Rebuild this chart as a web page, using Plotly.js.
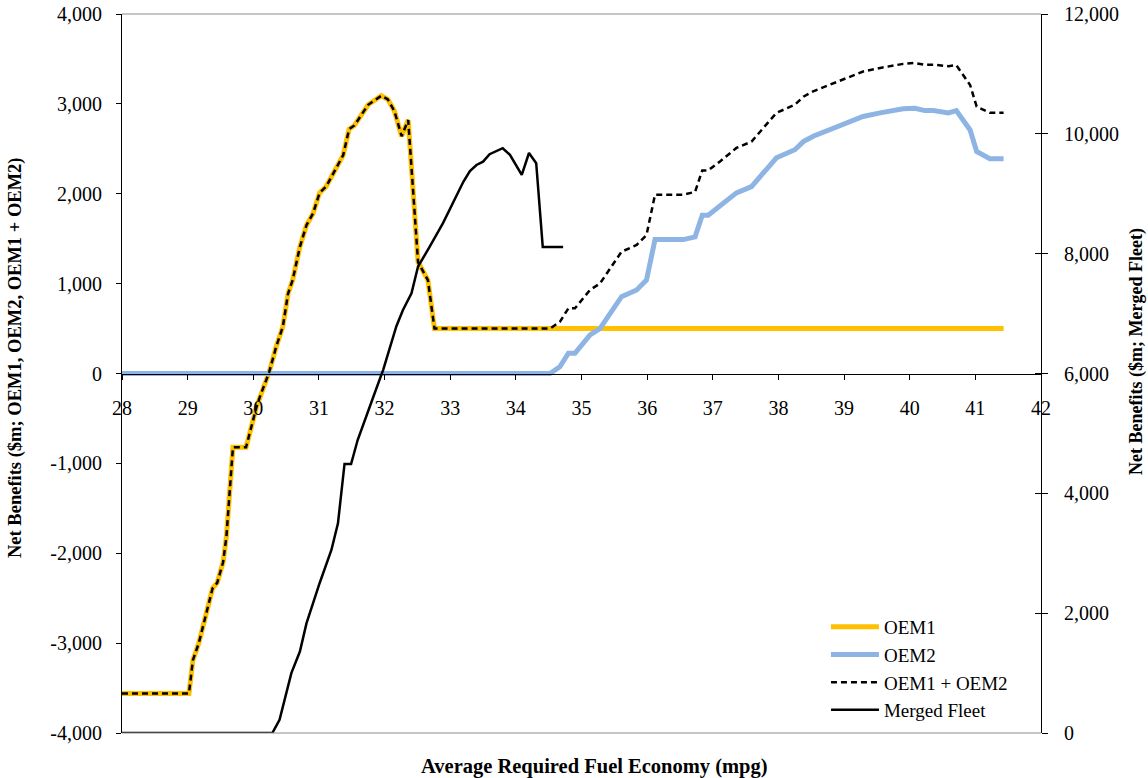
<!DOCTYPE html>
<html>
<head>
<meta charset="utf-8">
<script src="https://cdn.plot.ly/plotly-3.0.1.min.js"></script>
<style>
html,body{margin:0;padding:0;background:#fff;}
#chart{width:1148px;height:778px;}
</style>
</head>
<body>
<div id="chart"></div>
<script>
// ---- Data ----
const oem1X = [28.0, 29.02, 29.08, 29.17, 29.38, 29.45, 29.54, 29.59, 29.69, 29.89, 30.05, 30.10, 30.24, 30.35, 30.45, 30.53, 30.60, 30.71, 30.81, 30.91, 31.01, 31.11, 31.37, 31.46, 31.54, 31.75, 31.95, 32.05, 32.15, 32.26, 32.36, 32.51, 32.66, 32.76, 41.43];
const oem1Y = [-3560, -3560, -3190, -3000, -2390, -2330, -2100, -1820, -820, -820, -370, -260, 10, 300, 520, 890, 1040, 1410, 1650, 1780, 2010, 2080, 2430, 2720, 2760, 2990, 3090, 3050, 2920, 2640, 2820, 1240, 1040, 500, 500];

const oem2X = [28.0, 34.52, 34.67, 34.80, 34.90, 35.13, 35.28, 35.61, 35.84, 35.99, 36.12, 36.55, 36.73, 36.84, 36.93, 37.11, 37.36, 37.59, 37.79, 37.97, 38.25, 38.38, 38.53, 39.29, 39.55, 39.90, 40.08, 40.23, 40.36, 40.59, 40.71, 40.92, 41.02, 41.22, 41.43];
const oem2Y = [0, 0, 75, 225, 225, 430, 500, 855, 930, 1040, 1490, 1490, 1520, 1760, 1760, 1860, 2010, 2080, 2250, 2400, 2490, 2580, 2640, 2860, 2900, 2945, 2950, 2925, 2925, 2900, 2925, 2710, 2470, 2390, 2390];

const sumX = [28.0, 29.02, 29.08, 29.17, 29.38, 29.45, 29.54, 29.59, 29.69, 29.89, 30.05, 30.10, 30.24, 30.35, 30.45, 30.53, 30.60, 30.71, 30.81, 30.91, 31.01, 31.11, 31.37, 31.46, 31.54, 31.75, 31.95, 32.05, 32.15, 32.26, 32.36, 32.51, 32.66, 32.76,
              34.52, 34.67, 34.80, 34.90, 35.13, 35.28, 35.61, 35.84, 35.99, 36.12, 36.55, 36.73, 36.84, 36.93, 37.11, 37.36, 37.59, 37.79, 37.97, 38.25, 38.38, 38.53, 39.29, 39.55, 39.90, 40.08, 40.23, 40.36, 40.59, 40.71, 40.92, 41.02, 41.22, 41.43];
const sumY = [-3560, -3560, -3190, -3000, -2390, -2330, -2100, -1820, -820, -820, -370, -260, 10, 300, 520, 890, 1040, 1410, 1650, 1780, 2010, 2080, 2430, 2720, 2760, 2990, 3090, 3050, 2920, 2640, 2820, 1240, 1040, 500,
              500, 575, 725, 725, 930, 1000, 1355, 1430, 1540, 1990, 1990, 2020, 2260, 2260, 2360, 2510, 2580, 2750, 2900, 2990, 3080, 3140, 3360, 3400, 3445, 3455, 3435, 3435, 3420, 3430, 3210, 2970, 2900, 2900];

const mergedX = [28.0, 30.29, 30.40, 30.58, 30.71, 30.81, 31.01, 31.19, 31.29, 31.34, 31.39, 31.49, 31.59, 31.85, 31.98, 32.18, 32.28, 32.41, 32.51, 32.69, 32.89, 33.20, 33.30, 33.40, 33.50, 33.60, 33.70, 33.80, 33.91, 34.09, 34.20, 34.31, 34.41, 34.72];
const mergedY = [0, 0, 220, 1000, 1360, 1830, 2500, 3055, 3500, 4060, 4490, 4490, 4890, 5675, 6065, 6790, 7060, 7340, 7785, 8120, 8510, 9200, 9380, 9480, 9535, 9660, 9705, 9760, 9650, 9315, 9680, 9510, 8110, 8110];

const xTicks = [28, 29, 30, 31, 32, 33, 34, 35, 36, 37, 38, 39, 40, 41, 42];
const leftTickVals = [-4000, -3000, -2000, -1000, 0, 1000, 2000, 3000, 4000];
const leftTickText = ["-4,000", "-3,000", "-2,000", "-1,000", "0", "1,000", "2,000", "3,000", "4,000"];
const rightTickVals = [0, 2000, 4000, 6000, 8000, 10000, 12000];
const rightTickText = ["0", "2,000", "4,000", "6,000", "8,000", "10,000", "12,000"];

const seriesNames = ["OEM1", "OEM2", "OEM1 + OEM2", "Merged Fleet"];

// ---- Styles ----
const FONT = "Liberation Serif, Times New Roman, serif";
const tickFont = {family: FONT, size: 20, color: "#000"};

const traces = [
  {x: oem1X, y: oem1Y, name: seriesNames[0], type: "scatter", mode: "lines",
   line: {color: "#FFC000", width: 5}, yaxis: "y"},
  {x: oem2X, y: oem2Y, name: seriesNames[1], type: "scatter", mode: "lines",
   line: {color: "#8EB4E3", width: 5}, yaxis: "y"},
  {x: sumX, y: sumY, name: seriesNames[2], type: "scatter", mode: "lines",
   line: {color: "#000", width: 2.5, dash: "6px,4px"}, yaxis: "y"},
  {x: mergedX, y: mergedY, name: seriesNames[3], type: "scatter", mode: "lines",
   line: {color: "#000", width: 2.5}, yaxis: "y2"},
  {x: [], y: [], yaxis: "y3", showlegend: false, hoverinfo: "skip", type: "scatter", mode: "lines"}
];

const layout = {
  width: 1148, height: 778,
  margin: {l: 122, r: 107, t: 14, b: 45},
  paper_bgcolor: "#fff", plot_bgcolor: "#fff",
  font: {family: FONT, size: 19, color: "#000"},
  showlegend: true,
  legend: {
    x: 0.766, y: 0.174, xanchor: "left", yanchor: "top",
    bgcolor: "rgba(0,0,0,0)", borderwidth: 0,
    font: {family: FONT, size: 19, color: "#000"},
    itemwidth: 48, tracegroupgap: 0
  },
  xaxis: {
    range: [28, 42], tickvals: xTicks, ticktext: xTicks.map(String),
    anchor: "free", position: 0.5,
    showline: true, linecolor: "#000", linewidth: 1,
    ticks: "outside", ticklen: 5, tickcolor: "#000",
    ticklabelstandoff: 11,
    showgrid: false, zeroline: false, tickfont: tickFont
  },
  yaxis: {
    range: [-4000, 4000], tickvals: leftTickVals, ticktext: leftTickText,
    showline: true, linecolor: "#000", linewidth: 1,
    ticks: "outside", ticklen: 5, tickcolor: "#000",
    ticklabelstandoff: 10,
    showgrid: false, zeroline: false, tickfont: tickFont
  },
  yaxis2: {
    range: [0, 12000], tickvals: rightTickVals, ticktext: rightTickText,
    overlaying: "y", side: "right",
    showline: true, linecolor: "#000", linewidth: 1,
    ticks: "outside", ticklen: 6, tickcolor: "#000",
    ticklabelstandoff: 12,
    showgrid: false, zeroline: false, tickfont: tickFont
  },
  yaxis3: {
    range: [0, 12000], tickvals: rightTickVals,
    overlaying: "y", side: "right",
    showline: false, showticklabels: false,
    ticks: "inside", ticklen: 6, tickcolor: "#000",
    showgrid: false, zeroline: false
  },
  shapes: [
    {type: "line", xref: "paper", yref: "paper", x0: 0, x1: 1, y0: 1, y1: 1, line: {color: "#8c8c8c", width: 1}},
    {type: "line", xref: "paper", yref: "paper", x0: 0, x1: 1, y0: 0, y1: 0, line: {color: "#8c8c8c", width: 1}}
  ],
  annotations: [
    {text: "<b>Net Benefits ($m; OEM1, OEM2, OEM1 + OEM2)</b>", xref: "paper", yref: "paper",
     x: (15 - 122) / 919, y: (733 - 358) / 719, textangle: -90, showarrow: false,
     xanchor: "center", yanchor: "middle", font: {family: FONT, size: 18.5, color: "#000"}},
    {text: "<b>Net Benefits ($m; Merged Fleet)</b>", xref: "paper", yref: "paper",
     x: (1136 - 122) / 919, y: (733 - 352) / 719, textangle: -90, showarrow: false,
     xanchor: "center", yanchor: "middle", font: {family: FONT, size: 18, color: "#000"}},
    {text: "<b>Average Required Fuel Economy (mpg)</b>", xref: "paper", yref: "paper",
     x: (594 - 122) / 919, y: (733 - 767) / 719, showarrow: false,
     xanchor: "center", yanchor: "middle", font: {family: FONT, size: 20.5, color: "#000"}}
  ]
};

Plotly.newPlot("chart", traces, layout, {displayModeBar: false, staticPlot: true});
</script>
</body>
</html>
